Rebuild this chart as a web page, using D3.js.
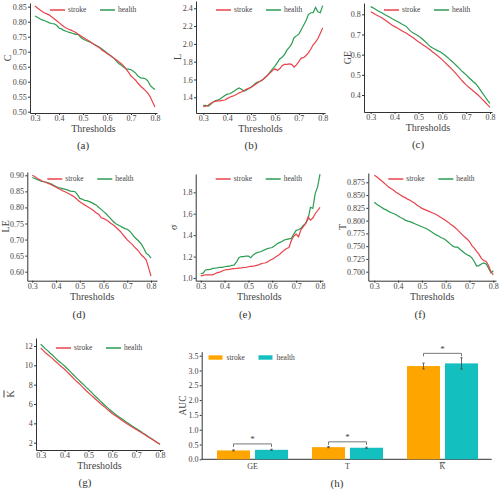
<!DOCTYPE html>
<html><head><meta charset="utf-8">
<script src="https://cdn.jsdelivr.net/npm/d3@7"></script>
<style>body{margin:0;background:#fff} svg{display:block} svg text{font-family:"Liberation Serif","Times New Roman",serif !important}</style>
</head><body><svg id="c" width="500" height="489" font-family="Liberation Serif"></svg>
<script>
// ---------- data ----------
const thresholds = [0.30,0.31,0.32,0.33,0.34,0.35,0.36,0.37,0.38,0.39,0.40,0.41,0.42,0.43,0.44,0.45,0.46,0.47,0.48,0.49,0.50,0.51,0.52,0.53,0.54,0.55,0.56,0.57,0.58,0.59,0.60,0.61,0.62,0.63,0.64,0.65,0.66,0.67,0.68,0.69,0.70,0.71,0.72,0.73,0.74,0.75,0.76,0.77,0.78,0.79,0.80];
const xTicks = [0.3,0.4,0.5,0.6,0.7,0.8];
const seriesNames = ['stroke','health'];

const C_stroke = [0.852,0.846,0.840,0.834,0.829,0.826,0.822,0.816,0.810,0.803,0.797,0.790,0.784,0.779,0.775,0.772,0.768,0.764,0.758,0.753,0.748,0.743,0.738,0.733,0.727,0.722,0.717,0.712,0.705,0.700,0.694,0.689,0.683,0.678,0.672,0.666,0.660,0.652,0.642,0.631,0.619,0.612,0.604,0.594,0.585,0.578,0.570,0.562,0.550,0.532,0.516];
const C_health = [0.819,0.815,0.810,0.806,0.803,0.800,0.796,0.794,0.793,0.788,0.779,0.776,0.771,0.768,0.765,0.763,0.760,0.758,0.758,0.748,0.742,0.738,0.735,0.732,0.727,0.723,0.719,0.714,0.708,0.702,0.696,0.690,0.684,0.677,0.668,0.660,0.655,0.648,0.643,0.642,0.640,0.635,0.628,0.618,0.613,0.612,0.610,0.603,0.588,0.580,0.574];
const C_ticks = [0.50,0.55,0.60,0.65,0.70,0.75,0.80,0.85];

const L_stroke = [1.295,1.30,1.31,1.33,1.345,1.355,1.36,1.36,1.365,1.37,1.385,1.40,1.41,1.42,1.435,1.45,1.46,1.475,1.49,1.50,1.51,1.53,1.55,1.565,1.585,1.60,1.625,1.65,1.675,1.70,1.72,1.70,1.72,1.755,1.77,1.77,1.775,1.77,1.74,1.765,1.80,1.84,1.845,1.87,1.90,1.94,1.99,2.02,2.06,2.12,2.18];
const L_health = [1.31,1.31,1.30,1.32,1.345,1.36,1.37,1.38,1.40,1.42,1.435,1.44,1.455,1.47,1.49,1.505,1.49,1.47,1.48,1.50,1.515,1.535,1.56,1.575,1.58,1.60,1.625,1.65,1.685,1.72,1.75,1.79,1.83,1.85,1.88,1.93,1.96,2.00,2.07,2.09,2.11,2.16,2.21,2.26,2.33,2.35,2.35,2.41,2.36,2.35,2.43];
const L_ticks = [1.4,1.6,1.8,2.0,2.2,2.4];

const GE_stroke = [0.813,0.806,0.799,0.793,0.787,0.780,0.772,0.763,0.754,0.746,0.739,0.733,0.726,0.719,0.712,0.706,0.698,0.690,0.682,0.673,0.664,0.656,0.648,0.640,0.632,0.623,0.613,0.604,0.595,0.585,0.574,0.563,0.551,0.540,0.528,0.516,0.502,0.489,0.475,0.462,0.450,0.440,0.430,0.420,0.410,0.400,0.388,0.376,0.364,0.351,0.339];
const GE_health = [0.838,0.832,0.825,0.818,0.811,0.805,0.798,0.792,0.785,0.778,0.772,0.766,0.759,0.752,0.746,0.739,0.725,0.714,0.706,0.700,0.693,0.684,0.674,0.663,0.651,0.640,0.633,0.627,0.620,0.614,0.607,0.598,0.588,0.578,0.567,0.557,0.545,0.533,0.521,0.510,0.500,0.488,0.477,0.466,0.456,0.441,0.424,0.407,0.390,0.373,0.359];
const GE_ticks = [0.4,0.5,0.6,0.7,0.8];

const LE_stroke = [0.900,0.896,0.891,0.887,0.883,0.880,0.877,0.874,0.871,0.867,0.863,0.859,0.855,0.851,0.848,0.844,0.840,0.836,0.831,0.824,0.818,0.813,0.808,0.804,0.799,0.794,0.789,0.783,0.778,0.768,0.766,0.762,0.757,0.751,0.746,0.740,0.733,0.726,0.717,0.708,0.699,0.692,0.686,0.677,0.670,0.662,0.652,0.645,0.636,0.612,0.586];
const LE_health = [0.893,0.890,0.887,0.884,0.881,0.880,0.878,0.876,0.873,0.869,0.865,0.862,0.860,0.858,0.856,0.854,0.851,0.850,0.849,0.840,0.828,0.826,0.822,0.821,0.818,0.815,0.811,0.807,0.800,0.794,0.787,0.781,0.773,0.765,0.757,0.750,0.746,0.742,0.738,0.734,0.732,0.726,0.718,0.708,0.701,0.694,0.685,0.672,0.657,0.652,0.642];
const LE_ticks = [0.60,0.65,0.70,0.75,0.80,0.85,0.90];

const S_stroke = [1.02,1.025,1.03,1.03,1.03,1.03,1.04,1.05,1.055,1.065,1.075,1.078,1.08,1.085,1.088,1.09,1.093,1.095,1.098,1.10,1.105,1.108,1.11,1.115,1.12,1.13,1.138,1.14,1.15,1.165,1.175,1.19,1.205,1.22,1.24,1.26,1.275,1.285,1.35,1.39,1.41,1.385,1.45,1.48,1.51,1.57,1.54,1.56,1.60,1.63,1.66];
const S_health = [1.04,1.045,1.075,1.078,1.08,1.09,1.092,1.095,1.10,1.10,1.105,1.108,1.11,1.118,1.12,1.15,1.19,1.20,1.20,1.205,1.205,1.19,1.215,1.23,1.24,1.245,1.255,1.265,1.275,1.28,1.285,1.30,1.32,1.33,1.34,1.355,1.36,1.365,1.37,1.41,1.445,1.45,1.465,1.49,1.51,1.55,1.66,1.65,1.79,1.85,1.97];
const S_ticks = [1.0,1.2,1.4,1.6,1.8];

const T_stroke = [0.889,0.886,0.882,0.878,0.874,0.870,0.866,0.863,0.860,0.856,0.853,0.850,0.847,0.845,0.842,0.840,0.837,0.834,0.830,0.827,0.824,0.822,0.820,0.818,0.816,0.814,0.812,0.809,0.806,0.803,0.800,0.797,0.793,0.790,0.786,0.782,0.777,0.772,0.768,0.764,0.759,0.751,0.746,0.740,0.734,0.726,0.722,0.720,0.712,0.700,0.694];
const T_health = [0.836,0.832,0.829,0.826,0.823,0.821,0.818,0.816,0.814,0.812,0.809,0.806,0.804,0.801,0.799,0.798,0.796,0.794,0.792,0.790,0.788,0.786,0.784,0.781,0.778,0.775,0.772,0.770,0.767,0.765,0.762,0.758,0.754,0.750,0.748,0.748,0.744,0.740,0.736,0.733,0.731,0.727,0.720,0.711,0.712,0.715,0.717,0.715,0.707,0.698,0.702];
const T_ticks = [0.700,0.725,0.750,0.775,0.800,0.825,0.850,0.875];

const K_stroke = [11.8,11.55,11.3,11.1,10.9,10.7,10.45,10.25,10.0,9.8,9.6,9.35,9.1,8.85,8.6,8.35,8.15,7.9,7.65,7.4,7.17,6.95,6.73,6.5,6.28,6.05,5.85,5.65,5.43,5.23,5.03,4.85,4.68,4.5,4.32,4.15,3.98,3.82,3.67,3.52,3.38,3.22,3.07,2.92,2.76,2.6,2.45,2.3,2.15,2.0,1.86];
const K_health = [12.2,11.95,11.7,11.5,11.25,11.05,10.8,10.55,10.35,10.15,9.93,9.7,9.45,9.2,8.95,8.7,8.47,8.23,8.0,7.75,7.52,7.28,7.03,6.78,6.55,6.3,6.08,5.85,5.63,5.4,5.2,5.0,4.82,4.64,4.47,4.3,4.12,3.95,3.79,3.63,3.48,3.32,3.15,2.98,2.82,2.65,2.48,2.32,2.15,1.98,1.83];
const K_ticks = [2,4,6,8,10,12];

const aucCats = ['GE','T','K'];
const aucStroke = [0.30, 0.41, 3.15];
const aucHealth = [0.32, 0.39, 3.24];
const aucStrokeErr = [0.02, 0.02, 0.10];
const aucHealthErr = [0.02, 0.02, 0.19];
const aucSig = [0.52, 0.59, 3.58];
const aucTicks = [0.0,0.5,1.0,1.5,2.0,2.5,3.0,3.5];

// ---------- style ----------
const RED = '#e8434b', GREEN = '#2a9d52', ORANGE = '#ffa500', TEAL = '#14bfc0';
const AX = '#333', TXT = '#444';
const FONT = 'Liberation Serif, Times New Roman, serif';
const svg = d3.select('#c');

function styleAxis(sel){
  sel.attr('font-family', FONT);
  sel.select('.domain').attr('stroke', AX).attr('stroke-width', 1);
  sel.selectAll('.tick line').attr('stroke', AX);
  sel.selectAll('.tick text').attr('fill', TXT).attr('font-size', 8);
}
// K with an overline
function kbar(sel){
  sel.text('K').style('text-decoration', 'overline');
}

const panels = [
  {yl:'C',  s:C_stroke,  h:C_health,  ticks:C_ticks,  fmt:'.2f', axisX:30,  top:3,   bottom:113,   right:157, p3:35,    p8:155,   yT:[0.85,6.7],   yB:[0.50,111.7], ylx:7,     cap:'(a)', cx:83,  cy:145, legY:10},
  {yl:'L',  s:L_stroke,  h:L_health,  ticks:L_ticks,  fmt:'.1f', axisX:196, top:1,   bottom:113,   right:325, p3:203.3, p8:322.7, yT:[2.4,8.3],    yB:[1.4,97.3],   ylx:177,   cap:'(b)', cx:251, cy:145, legY:10},
  {yl:'GE', s:GE_stroke, h:GE_health, ticks:GE_ticks, fmt:'.1f', axisX:364, top:3,   bottom:112,   right:492, p3:370.7, p8:490,   yT:[0.8,14.3],   yB:[0.4,95],     ylx:347,   cap:'(c)', cx:418, cy:144, legY:10},
  {yl:'LE', s:LE_stroke, h:LE_health, ticks:LE_ticks, fmt:'.2f', axisX:27.3,top:172, bottom:280.7, right:157, p3:32.3,  p8:151,   yT:[0.90,175.3], yB:[0.60,271.7], ylx:5,     cap:'(d)', cx:79,  cy:314, legY:179},
  {yl:'σ',  s:S_stroke,  h:S_health,  ticks:S_ticks,  fmt:'.1f', axisX:195.7,top:174,bottom:280.7, right:323, p3:200.7, p8:320,   yT:[1.8,192.3],  yB:[1.0,278],    ylx:173,   cap:'(e)', cx:245, cy:314, legY:179},
  {yl:'T',  s:T_stroke,  h:T_health,  ticks:T_ticks,  fmt:'.3f', axisX:368.3,top:173,bottom:280.7, right:496, p3:374.3, p8:493.3, yT:[0.875,182.3],yB:[0.700,271.7],ylx:342,   cap:'(f)', cx:420, cy:314, legY:179},
  {yl:'K',  s:K_stroke,  h:K_health,  ticks:K_ticks,  fmt:'d',   axisX:36,  top:338, bottom:450,   right:163, p3:40.7,  p8:160,   yT:[12,346],     yB:[2,442.7],    ylx:10,    cap:'(g)', cx:85,  cy:482, legY:348, bar:true}
];

function legend(g, x0, y, kind){
  const items = [{n:'stroke', c: kind==='bar'?ORANGE:RED, dx:0},{n:'health', c: kind==='bar'?TEAL:GREEN, dx:50}];
  items.forEach(it=>{
    if(kind==='bar'){
      g.append('rect').attr('x', x0+it.dx).attr('y', y-2.2).attr('width', 14).attr('height', 4.4).attr('fill', it.c);
    } else {
      g.append('line').attr('x1', x0+it.dx).attr('x2', x0+it.dx+15).attr('y1', y).attr('y2', y).attr('stroke', it.c).attr('stroke-width', 1.5);
    }
    g.append('text').attr('x', x0+it.dx+18).attr('y', y).attr('dy','0.32em').attr('font-size', 7.5).attr('fill', TXT).text(it.n);
  });
}

panels.forEach(p=>{
  const g = svg.append('g');
  const kx = (p.p8 - p.p3)/0.5;
  const x = d3.scaleLinear().domain([0.3 - (p.p3 - p.axisX)/kx, 0.8 + (p.right - p.p8)/kx]).range([p.axisX, p.right]);
  const ky = (p.yB[1] - p.yT[1])/(p.yT[0] - p.yB[0]);
  const y = d3.scaleLinear().domain([p.yB[0] - (p.bottom - p.yB[1])/ky, p.yT[0] + (p.yT[1] - p.top)/ky]).range([p.bottom, p.top]);

  g.append('g').attr('transform', `translate(0,${p.bottom})`)
    .call(d3.axisBottom(x).tickValues(xTicks).tickFormat(d3.format('.1f')).tickSize(2).tickPadding(0.5).tickSizeOuter(0))
    .call(styleAxis);
  g.append('g').attr('transform', `translate(${p.axisX},0)`)
    .call(d3.axisLeft(y).tickValues(p.ticks).tickFormat(d3.format(p.fmt)).tickSize(2).tickPadding(1.2).tickSizeOuter(0))
    .call(styleAxis);

  const line = d3.line().x((d,i)=>x(thresholds[i])).y(d=>y(d));
  g.append('path').datum(p.h).attr('d', line).attr('fill','none').attr('stroke', GREEN).attr('stroke-width', 1.2);
  g.append('path').datum(p.s).attr('d', line).attr('fill','none').attr('stroke', RED).attr('stroke-width', 1.2);

  legend(g, p.axisX + 20, p.legY, 'line');

  g.append('text').attr('x', (p.axisX + p.right)/2).attr('y', p.bottom + 19).attr('text-anchor','middle')
    .attr('font-size', 10).attr('fill', TXT).text('Thresholds');
  const yl = g.append('text').attr('transform', `translate(${p.ylx},${(p.top+p.bottom)/2}) rotate(-90)`)
    .attr('text-anchor','middle').attr('dy','0.35em').attr('font-size', 10).attr('fill', TXT).text(p.yl);
  if (p.bar) kbar(yl);
  g.append('text').attr('x', p.cx).attr('y', p.cy).attr('text-anchor','middle').attr('dy','0.35em')
    .attr('font-size', 11).attr('fill', '#333').text(p.cap);
});

// ---------- bar panel (h) ----------
(function(){
  const axisX = 201.7, top = 351.7, bottom = 459.3, right = 491.7;
  const g = svg.append('g');
  const y = d3.scaleLinear().domain([0, 3.5 + (355.7 - top)/((bottom-355.7)/3.5)]).range([bottom, top]);
  const x0 = d3.scaleBand().domain(aucCats).range([205, 490]);
  const x1 = d3.scaleBand().domain(seriesNames).range([0, 71]).paddingInner(5/38);
  const off = (x0.bandwidth() - 71)/2;

  const xa = g.append('g').attr('transform', `translate(0,${bottom})`)
    .call(d3.axisBottom(x0).tickSize(0).tickPadding(4)).call(styleAxis);
  xa.select('.domain').remove();
  xa.selectAll('.tick text').filter(d=>d==='K').call(kbar);
  g.append('line').attr('x1', axisX).attr('x2', right).attr('y1', bottom).attr('y2', bottom).attr('stroke', AX);
  g.append('g').attr('transform', `translate(${axisX},0)`)
    .call(d3.axisLeft(y).tickValues(aucTicks).tickFormat(d3.format('.1f')).tickSize(2).tickPadding(1.2).tickSizeOuter(0))
    .call(styleAxis);

  const rows = aucCats.map((c,i)=>({c, vals:[
    {n:'stroke', v:aucStroke[i], e:aucStrokeErr[i], col:ORANGE},
    {n:'health', v:aucHealth[i], e:aucHealthErr[i], col:TEAL}], sig:aucSig[i]}));

  rows.forEach(r=>{
    const gx = x0(r.c) + off;
    r.vals.forEach(b=>{
      const bx = gx + x1(b.n), cx = bx + x1.bandwidth()/2;
      g.append('rect').attr('x', bx).attr('y', y(b.v)).attr('width', x1.bandwidth()).attr('height', bottom - y(b.v)).attr('fill', b.col);
      g.append('line').attr('x1', cx).attr('x2', cx).attr('y1', y(b.v + b.e)).attr('y2', y(b.v - b.e)).attr('stroke', '#444').attr('stroke-width', 0.8);
      [b.v + b.e, b.v - b.e].forEach(v=>g.append('line').attr('x1', cx-1.2).attr('x2', cx+1.2).attr('y1', y(v)).attr('y2', y(v)).attr('stroke', '#444').attr('stroke-width', 0.8));
    });
    const xa1 = gx + x1('stroke') + x1.bandwidth()/2, xa2 = gx + x1('health') + x1.bandwidth()/2;
    const ys = y(r.sig);
    g.append('path').attr('d', `M${xa1},${ys+3}V${ys}H${xa2}V${ys+3}`).attr('fill','none').attr('stroke', '#777').attr('stroke-width', 1);
    g.append('text').attr('x', (xa1+xa2)/2).attr('y', ys - 1.5).attr('text-anchor','middle').attr('font-size', 9).attr('fill', '#444').text('*');
  });

  legend(g, 208.5, 357.5, 'bar');
  g.append('text').attr('transform', `translate(183,${(top+bottom)/2}) rotate(-90)`)
    .attr('text-anchor','middle').attr('dy','0.35em').attr('font-size', 9.5).attr('fill', TXT).text('AUC');
  g.append('text').attr('x', 337).attr('y', 483).attr('text-anchor','middle').attr('dy','0.35em')
    .attr('font-size', 11).attr('fill', '#333').text('(h)');
})();
</script></body></html>
